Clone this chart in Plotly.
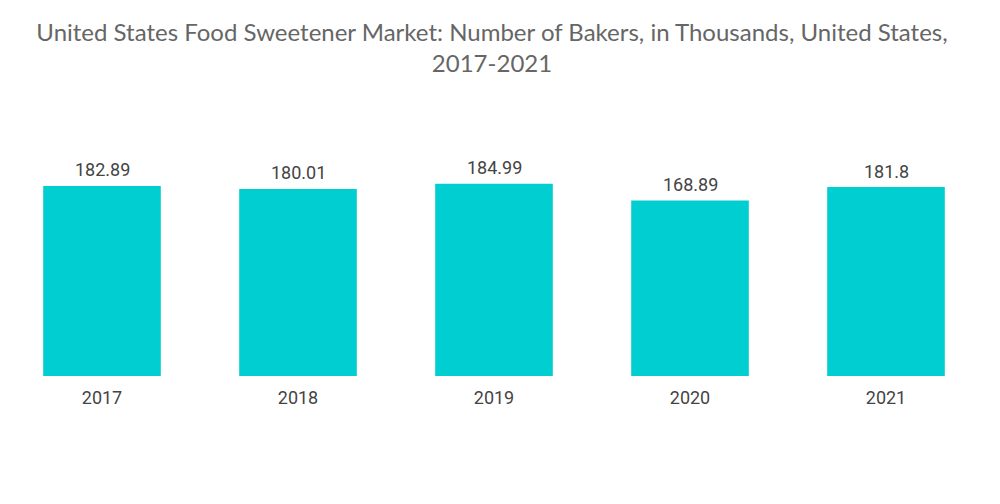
import plotly.graph_objects as go

years = ["2017", "2018", "2019", "2020", "2021"]
bakers = [182.89, 180.01, 184.99, 168.89, 181.8]
labels = ["182.89", "180.01", "184.99", "168.89", "181.8"]

fig = go.Figure(go.Bar(
    x=years, y=bakers,
    marker=dict(color="#00CED1", line=dict(width=0)),
    width=0.6,
))

for i, (v, lab) in enumerate(zip(bakers, labels)):
    fig.add_annotation(
        x=i, y=v, text=lab, showarrow=False,
        xref="x", yref="y",
        xanchor="center", yanchor="middle", yshift=16,
        font=dict(family="Roboto", size=18, color="#444444"),
    )

fig.update_layout(
    width=1000, height=504,
    paper_bgcolor="white", plot_bgcolor="white",
    margin=dict(l=0, r=20, t=92, b=136),
    title=dict(
        text="United States Food Sweetener Market: Number of Bakers, in Thousands, United States,<br>2017-2021",
        x=0.484, xanchor="center", y=0.934, yanchor="top",
        font=dict(family="Lato", size=24, color="#666666"),
    ),
    xaxis=dict(type="category", showgrid=False, showline=False, zeroline=False, ticks="",
               range=[-0.4796, 4.5204],
               ticklabelstandoff=9,
               tickfont=dict(family="Roboto", size=18, color="#444444")),
    yaxis=dict(visible=False, range=[0, 265.6]),
    showlegend=False,
)

fig.write_html("out.html")
